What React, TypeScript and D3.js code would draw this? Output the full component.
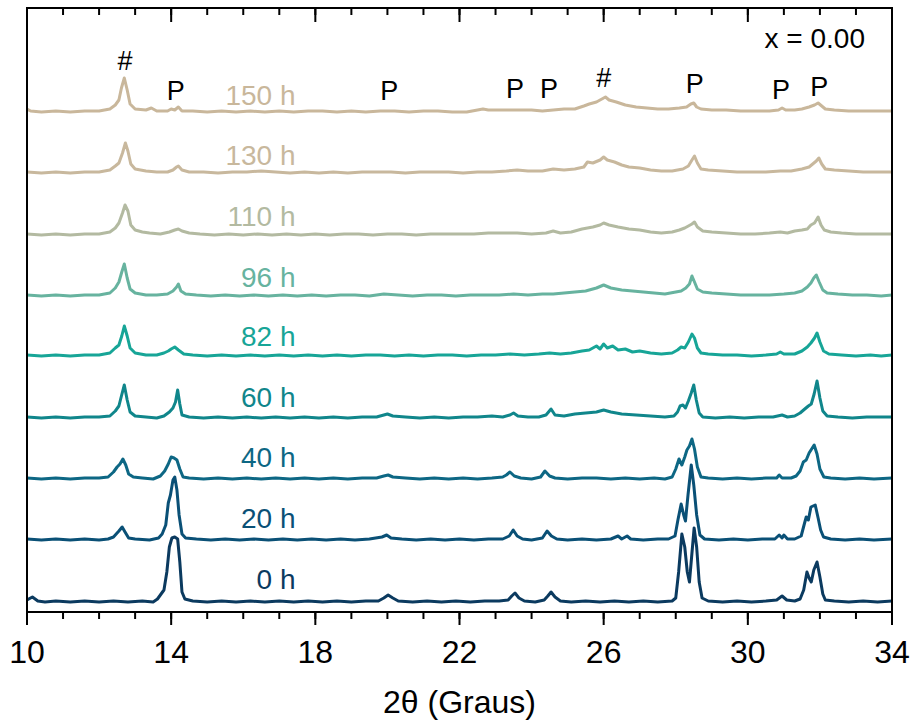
import React from "react";
import * as d3 from "d3";

const timeLabels = ["0 h", "20 h", "40 h", "60 h", "82 h", "96 h", "110 h", "130 h", "150 h"];
const colors = ["#0b3a5f", "#0a5076", "#0d6784", "#10868b", "#17a597", "#67b39f", "#b3baa1", "#c8b89d", "#c9b79b"];
const offsets = [0, 62, 123, 184, 246, 306, 367, 429, 490];

const T0: [number, number][] = [[10.0,2],[10.15,5],[10.3,1],[10.5,0],[10.8,1],[11.2,0],[11.6,1],[12.0,0],[12.4,1],[12.8,0],[13.2,1],[13.5,0],[13.62,3],[13.72,8],[13.8,12],[13.88,30],[13.95,55],[14.02,64],[14.1,65],[14.18,63],[14.24,40],[14.3,10],[14.38,3],[14.6,1],[15.0,0],[15.4,1],[15.8,0],[16.2,1],[16.6,0],[17.0,1],[17.4,0],[17.8,1],[18.2,0],[18.6,1],[19.0,0],[19.4,1],[19.75,1],[19.9,4],[20.02,7],[20.15,4],[20.3,1],[20.7,0],[21.1,1],[21.5,0],[21.9,1],[22.3,0],[22.7,1],[23.1,1],[23.35,2],[23.45,6],[23.54,9],[23.65,4],[23.8,1],[24.1,0],[24.35,2],[24.45,6],[24.54,10],[24.65,5],[24.8,1],[25.1,0],[25.5,1],[25.9,0],[26.3,1],[26.7,0],[27.1,1],[27.5,0],[27.9,1],[28.0,4],[28.08,30],[28.17,68],[28.25,55],[28.32,30],[28.38,20],[28.44,45],[28.51,74],[28.58,55],[28.65,20],[28.73,4],[28.9,1],[29.3,0],[29.7,1],[30.1,0],[30.5,1],[30.8,2],[30.95,6],[31.08,2],[31.3,1],[31.45,3],[31.55,12],[31.64,30],[31.7,24],[31.76,20],[31.83,32],[31.92,40],[32.0,25],[32.08,8],[32.15,2],[32.4,1],[32.8,0],[33.2,1],[33.6,0],[34.0,1]];

const T20: [number, number][] = [[10.0,1],[10.4,0],[10.8,1],[11.2,0],[11.6,1],[12.0,0],[12.25,1],[12.4,3],[12.55,9],[12.64,13],[12.72,8],[12.82,2],[13.0,1],[13.4,0],[13.65,2],[13.75,6],[13.85,15],[13.92,37],[13.98,45],[14.05,60],[14.1,63],[14.16,50],[14.22,25],[14.3,6],[14.4,2],[14.7,1],[15.1,0],[15.5,1],[15.9,0],[16.3,1],[16.7,0],[17.1,1],[17.5,0],[17.9,1],[18.3,0],[18.7,1],[19.1,0],[19.5,1],[19.85,3],[19.98,5],[20.1,2],[20.4,1],[20.8,0],[21.2,1],[21.6,0],[22.0,1],[22.4,0],[22.8,1],[23.2,1],[23.38,4],[23.49,10],[23.6,4],[23.75,1],[24.0,0],[24.3,2],[24.43,9],[24.55,4],[24.7,1],[25.0,0],[25.4,1],[25.8,0],[26.2,1],[26.4,4],[26.5,1],[26.65,4],[26.75,1],[27.1,0],[27.5,1],[27.8,1],[27.98,4],[28.06,20],[28.15,36],[28.22,25],[28.27,19],[28.34,45],[28.43,75],[28.5,55],[28.58,25],[28.67,5],[28.8,1],[29.2,0],[29.6,1],[30.0,0],[30.4,1],[30.75,1],[30.87,5],[30.95,2],[31.0,5],[31.1,1],[31.3,1],[31.48,4],[31.56,15],[31.62,23],[31.68,20],[31.75,33],[31.87,35],[31.95,22],[32.02,10],[32.1,3],[32.3,1],[32.7,0],[33.1,1],[33.5,0],[34.0,1]];

const T40: [number, number][] = [[10.0,1],[10.4,0],[10.8,1],[11.2,0],[11.6,1],[12.0,1],[12.25,2],[12.4,7],[12.5,12],[12.58,15],[12.66,20],[12.74,14],[12.82,5],[12.95,2],[13.2,1],[13.5,0],[13.7,3],[13.82,8],[13.92,15],[14.0,22],[14.08,21],[14.16,19],[14.24,10],[14.33,2],[14.5,1],[14.9,0],[15.3,1],[15.7,0],[16.1,1],[16.5,0],[16.9,1],[17.3,0],[17.7,1],[18.1,0],[18.5,1],[18.9,0],[19.3,1],[19.7,1],[19.9,3],[20.02,4],[20.15,2],[20.5,1],[20.9,0],[21.3,1],[21.7,0],[22.1,1],[22.5,0],[22.9,1],[23.2,2],[23.3,4],[23.4,7],[23.52,3],[23.7,1],[24.0,0],[24.25,2],[24.37,8],[24.5,3],[24.65,1],[25.0,0],[25.4,1],[25.8,1],[26.2,0],[26.6,1],[27.0,0],[27.4,1],[27.7,0],[27.9,2],[28.0,10],[28.09,20],[28.17,14],[28.25,22],[28.31,29],[28.38,33],[28.45,40],[28.52,30],[28.6,12],[28.7,2],[28.9,1],[29.3,0],[29.7,1],[30.1,0],[30.5,1],[30.8,1],[30.87,4],[30.95,1],[31.2,1],[31.34,3],[31.45,8],[31.54,17],[31.62,19],[31.7,26],[31.77,30],[31.84,34],[31.92,25],[32.0,10],[32.11,2],[32.3,1],[32.7,0],[33.1,1],[33.5,0],[34.0,1]];

const T60: [number, number][] = [[10.0,1],[10.4,0],[10.8,1],[11.2,0],[11.6,1],[12.0,1],[12.3,2],[12.45,7],[12.55,12],[12.62,22],[12.7,33],[12.78,18],[12.86,6],[13.0,2],[13.3,1],[13.6,0],[13.8,2],[13.95,6],[14.05,10],[14.12,16],[14.18,28],[14.24,14],[14.3,3],[14.5,1],[14.9,0],[15.3,1],[15.7,0],[16.1,1],[16.5,0],[16.9,1],[17.3,0],[17.7,1],[18.1,0],[18.5,1],[18.9,0],[19.3,1],[19.7,1],[19.9,3],[20.0,4],[20.15,2],[20.5,1],[20.9,0],[21.3,1],[21.7,0],[22.1,1],[22.5,1],[22.9,2],[23.2,1],[23.4,3],[23.5,5],[23.62,2],[23.9,1],[24.2,1],[24.4,3],[24.54,9],[24.65,3],[24.9,2],[25.2,4],[25.5,5],[25.8,6],[26.0,8],[26.2,6],[26.5,4],[26.9,3],[27.3,2],[27.7,1],[27.95,2],[28.05,6],[28.12,12],[28.2,13],[28.27,10],[28.35,17],[28.43,25],[28.5,33],[28.57,18],[28.65,5],[28.75,1],[29.1,0],[29.5,1],[29.9,0],[30.3,1],[30.7,1],[30.95,3],[31.1,1],[31.3,2],[31.45,5],[31.58,9],[31.68,12],[31.76,14],[31.84,24],[31.92,37],[32.0,20],[32.08,7],[32.2,2],[32.5,1],[32.9,0],[33.3,1],[33.7,1],[34.0,1]];

const T82: [number, number][] = [[10.0,1],[10.4,0],[10.8,1],[11.2,0],[11.6,1],[12.0,1],[12.3,3],[12.45,8],[12.55,11],[12.63,20],[12.7,30],[12.78,20],[12.86,8],[13.0,3],[13.3,1],[13.6,1],[13.8,3],[13.92,5],[14.0,7],[14.1,9],[14.2,6],[14.35,2],[14.6,1],[15.0,0],[15.4,1],[15.8,0],[16.2,1],[16.6,0],[17.0,1],[17.4,0],[17.8,1],[18.2,0],[18.6,1],[19.0,0],[19.4,1],[19.8,1],[20.2,0],[20.6,1],[21.0,0],[21.4,1],[21.8,1],[22.2,0],[22.6,1],[23.0,1],[23.4,2],[23.8,1],[24.2,2],[24.5,3],[24.8,2],[25.1,3],[25.4,5],[25.6,6],[25.8,10],[25.9,7],[26.0,12],[26.1,8],[26.25,10],[26.4,6],[26.6,7],[26.8,4],[27.0,5],[27.3,3],[27.6,2],[27.9,3],[28.05,6],[28.15,9],[28.25,8],[28.35,14],[28.45,22],[28.52,18],[28.6,8],[28.7,3],[28.9,2],[29.3,1],[29.7,1],[30.1,0],[30.5,1],[30.8,2],[30.9,4],[31.0,2],[31.3,2],[31.5,5],[31.65,9],[31.75,13],[31.85,18],[31.92,23],[32.0,14],[32.1,5],[32.25,2],[32.6,1],[33.0,0],[33.4,1],[33.7,0],[34.0,1]];

const T96: [number, number][] = [[10.0,1],[10.4,0],[10.8,1],[11.2,0],[11.6,1],[12.0,1],[12.3,3],[12.45,8],[12.55,14],[12.63,24],[12.7,32],[12.78,18],[12.86,7],[13.0,3],[13.3,1],[13.6,1],[13.9,2],[14.05,5],[14.15,9],[14.2,12],[14.27,5],[14.4,2],[14.7,1],[15.1,0],[15.5,1],[15.9,0],[16.3,1],[16.7,0],[17.1,1],[17.5,0],[17.9,1],[18.3,0],[18.7,1],[19.1,1],[19.5,0],[19.9,2],[20.3,1],[20.7,0],[21.1,1],[21.5,1],[21.9,0],[22.3,1],[22.7,1],[23.1,1],[23.5,2],[23.9,1],[24.3,2],[24.6,2],[24.9,3],[25.2,4],[25.5,5],[25.8,8],[26.0,11],[26.2,8],[26.5,6],[26.8,5],[27.1,4],[27.4,3],[27.7,2],[28.0,4],[28.15,5],[28.28,8],[28.38,12],[28.45,20],[28.52,14],[28.6,7],[28.75,4],[29.0,3],[29.4,2],[29.8,1],[30.2,1],[30.6,1],[31.0,2],[31.3,3],[31.5,5],[31.65,9],[31.75,13],[31.83,18],[31.9,21],[31.98,14],[32.08,6],[32.2,3],[32.5,2],[32.9,1],[33.3,1],[33.7,0],[34.0,1]];

const T110: [number, number][] = [[10.0,1],[10.4,0],[10.8,1],[11.2,0],[11.6,1],[12.0,1],[12.3,3],[12.45,7],[12.55,12],[12.65,22],[12.72,30],[12.8,24],[12.88,10],[13.0,5],[13.2,3],[13.4,2],[13.7,1],[13.95,3],[14.1,5],[14.2,6],[14.3,4],[14.5,2],[14.8,1],[15.2,0],[15.6,1],[16.0,0],[16.4,1],[16.8,0],[17.2,1],[17.6,0],[18.0,1],[18.4,0],[18.8,1],[19.2,1],[19.6,0],[20.0,1],[20.4,1],[20.8,0],[21.2,1],[21.6,1],[22.0,1],[22.4,1],[22.8,2],[23.2,2],[23.6,2],[24.0,1],[24.4,2],[24.6,4],[24.8,2],[25.1,3],[25.4,6],[25.7,8],[25.9,10],[26.0,12],[26.15,10],[26.4,8],[26.7,6],[27.0,5],[27.3,3],[27.6,2],[27.9,3],[28.1,5],[28.25,7],[28.35,9],[28.45,11],[28.52,13],[28.6,8],[28.75,4],[29.0,3],[29.4,2],[29.8,1],[30.2,1],[30.6,2],[30.9,3],[31.1,2],[31.3,4],[31.5,5],[31.65,6],[31.75,10],[31.85,12],[31.95,18],[32.03,10],[32.12,5],[32.3,3],[32.6,2],[33.0,1],[33.4,1],[33.7,1],[34.0,1]];

const T130: [number, number][] = [[10.0,1],[10.4,0],[10.8,1],[11.2,0],[11.6,1],[12.0,1],[12.3,3],[12.45,7],[12.55,10],[12.65,20],[12.73,30],[12.8,22],[12.88,9],[13.0,4],[13.3,2],[13.6,1],[13.9,1],[14.05,3],[14.15,6],[14.2,7],[14.3,3],[14.5,1],[14.9,1],[15.3,0],[15.7,1],[16.1,1],[16.5,2],[16.9,1],[17.3,0],[17.7,1],[18.1,0],[18.5,1],[18.9,0],[19.3,1],[19.7,1],[20.1,1],[20.5,0],[20.9,1],[21.3,1],[21.7,1],[22.1,0],[22.5,1],[22.9,1],[23.3,2],[23.6,3],[23.9,2],[24.3,2],[24.6,4],[24.9,3],[25.2,4],[25.45,6],[25.55,11],[25.7,10],[25.9,13],[26.0,16],[26.1,13],[26.3,11],[26.5,8],[26.7,6],[27.0,5],[27.3,3],[27.6,2],[27.9,2],[28.2,4],[28.35,7],[28.45,13],[28.52,17],[28.6,10],[28.7,4],[28.9,3],[29.3,2],[29.7,1],[30.1,1],[30.5,1],[30.9,2],[31.2,2],[31.5,4],[31.7,6],[31.8,9],[31.9,12],[31.97,15],[32.05,9],[32.15,4],[32.4,3],[32.8,2],[33.2,1],[33.6,1],[34.0,1]];

const T150: [number, number][] = [[10.0,3],[10.1,1],[10.4,0],[10.8,1],[11.2,0],[11.6,1],[12.0,1],[12.3,3],[12.45,7],[12.55,12],[12.62,24],[12.7,34],[12.78,22],[12.86,8],[13.0,3],[13.3,2],[13.45,4],[13.6,1],[13.9,1],[14.0,3],[14.1,2],[14.2,5],[14.3,1],[14.6,1],[15.0,0],[15.4,1],[15.8,0],[16.2,1],[16.6,0],[17.0,1],[17.4,0],[17.8,1],[18.2,1],[18.6,0],[19.0,1],[19.4,0],[19.8,1],[20.2,1],[20.6,0],[21.0,1],[21.4,1],[21.8,0],[22.2,0],[22.5,2],[22.65,3],[22.8,2],[23.2,2],[23.6,2],[24.0,2],[24.3,1],[24.6,2],[24.9,3],[25.2,3],[25.45,6],[25.6,8],[25.8,10],[25.95,13],[26.05,15],[26.15,12],[26.35,10],[26.6,7],[26.9,5],[27.2,4],[27.5,3],[27.8,3],[28.1,4],[28.3,5],[28.42,8],[28.5,9],[28.58,5],[28.7,3],[29.0,2],[29.4,2],[29.8,1],[30.2,1],[30.6,1],[30.85,2],[30.95,4],[31.05,2],[31.3,2],[31.5,3],[31.7,5],[31.85,7],[31.95,9],[32.05,6],[32.15,3],[32.4,2],[32.8,1],[33.2,1],[33.6,1],[34.0,1]];

const traces = [T0, T20, T40, T60, T82, T96, T110, T130, T150];

const markSymbols = ["#", "P", "P", "P", "P", "#", "P", "P", "P"];
const markPos = [12.72, 14.13, 20.05, 23.54, 24.48, 26.0, 28.53, 30.92, 31.98];
const markLevel = [42, 12, 12, 14, 14, 25, 19, 13, 16];

const majorTicks = [10, 14, 18, 22, 26, 30, 34];
const minorTicks = d3.range(10, 34.001, 1);

const W = 914, H = 722;
const L = 27, R = 892, TOP = 8, BOT = 612;

export default function App() {
  const x = d3.scaleLinear().domain([10, 34]).range([L, R]);
  const y = d3.scaleLinear().domain([-10, 594]).range([BOT, TOP]);
  const font = "'Liberation Sans', Arial, sans-serif";
  const topOffset = offsets[offsets.length - 1];

  return (
    <div style={{ position: "absolute", left: 0, top: 0 }}>
      <svg width={W} height={H} style={{ display: "block", background: "#fff" }}>
        <defs>
          <clipPath id="plotclip">
            <rect x={L} y={TOP} width={R - L} height={BOT - TOP} />
          </clipPath>
        </defs>
        <g clipPath="url(#plotclip)">
          {traces.map((t, i) => {
            const line = d3
              .line<[number, number]>()
              .x((d) => x(d[0]))
              .y((d) => y(d[1] + offsets[i]))
              .curve(d3.curveLinear);
            return (
              <path
                key={i}
                d={line(t) || ""}
                fill="none"
                stroke={colors[i]}
                strokeWidth={3}
                strokeLinejoin="round"
                strokeLinecap="round"
              />
            );
          })}
        </g>
        {timeLabels.map((lab, i) => (
          <text
            key={lab}
            x={x(17.45)}
            y={y(offsets[i]) - (13 - 0.7 * i)}
            textAnchor="end"
            fontFamily={font}
            fontSize={28}
            fill={colors[i]}
          >
            {lab}
          </text>
        ))}
        {markSymbols.map((s, i) => (
          <text
            key={i}
            x={x(markPos[i])}
            y={y(topOffset + markLevel[i])}
            textAnchor="middle"
            fontFamily={font}
            fontSize={27}
            fill="#000"
          >
            {s}
          </text>
        ))}
        <text x={865} y={48} textAnchor="end" fontFamily={font} fontSize={28} fill="#000">
          x = 0.00
        </text>
        <rect x={L} y={TOP} width={R - L} height={BOT - TOP} fill="none" stroke="#000" strokeWidth={2} />
        {minorTicks.map((t) => (
          <line key={"bm" + t} x1={x(t)} x2={x(t)} y1={BOT} y2={BOT + 7} stroke="#000" strokeWidth={2} />
        ))}
        {majorTicks.map((t) => (
          <line key={"bM" + t} x1={x(t)} x2={x(t)} y1={BOT} y2={BOT + 13} stroke="#000" strokeWidth={2} />
        ))}
        {minorTicks.map((t) => (
          <line key={"tm" + t} x1={x(t)} x2={x(t)} y1={TOP} y2={TOP + 7} stroke="#000" strokeWidth={2} />
        ))}
        {majorTicks.map((t) => (
          <line key={"tM" + t} x1={x(t)} x2={x(t)} y1={TOP} y2={TOP + 14} stroke="#000" strokeWidth={2} />
        ))}
        {majorTicks.map((t) => (
          <text
            key={"tl" + t}
            x={x(t)}
            y={663}
            textAnchor="middle"
            fontFamily={font}
            fontSize={32}
            fill="#000"
          >
            {t}
          </text>
        ))}
        <text x={(L + R) / 2} y={713} textAnchor="middle" fontFamily={font} fontSize={32} fill="#000">
          2θ (Graus)
        </text>
      </svg>
    </div>
  );
}
